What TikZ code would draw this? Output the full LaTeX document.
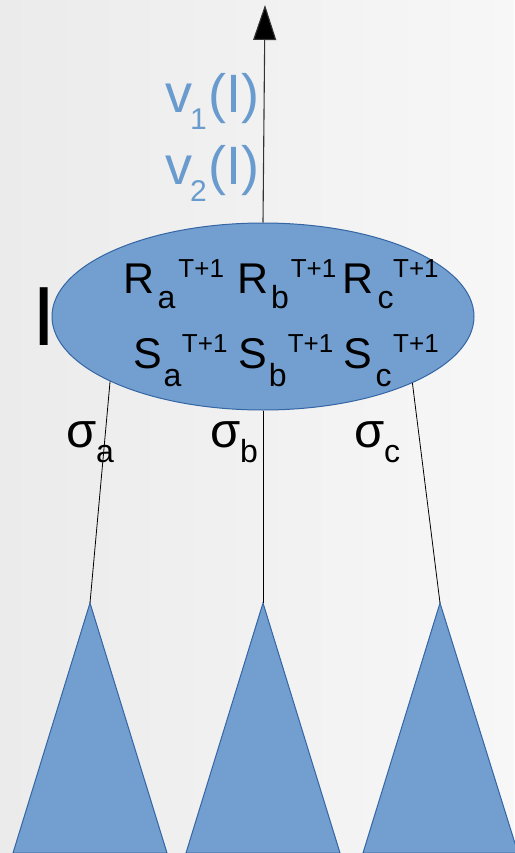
\documentclass[tikz,border=0pt]{standalone}
\usepackage{fontspec}
\setmainfont{Liberation Sans}
\usetikzlibrary{shapes.geometric,arrows.meta}
\definecolor{lofill}{HTML}{729FCF}
\definecolor{loline}{HTML}{3465A4}
\definecolor{vtext}{HTML}{6A9BCF}
\definecolor{bgl}{HTML}{EBEBEB}
\definecolor{bgr}{HTML}{F7F7F7}
\newcommand{\fsz}[1]{\fontsize{#1}{#1}\selectfont}
% main letter, subscript, kern1, kern2, sub drop, sup raise
\newcommand{\rsent}[6]{{\fsz{43}#1}\kern#3pt\raisebox{-#5pt}{\fsz{32}#2}\kern#4pt\raisebox{#6pt}{\fsz{26}T+1}}
\newcommand{\sigent}[1]{{\fsz{49}σ}\raisebox{-15pt}{\fsz{32}#1}}
\newcommand{\vent}[1]{{\fsz{54}v}\kern-2pt\raisebox{-17pt}{\fsz{30}#1}\kern2pt{\fsz{54}(I)}}
\begin{document}
\begin{tikzpicture}[x=1pt,y=-1pt,
  txt/.style={inner sep=0pt,outer sep=0pt,anchor=base west},
  shapeline/.style={draw=loline,line width=1pt,fill=lofill},
  conn/.style={draw=black,line width=0.8pt}]
\shade[left color=bgl,right color=bgr] (0,0) rectangle (514,853);
\useasboundingbox (0,0) rectangle (514,853);
% triangles
\coordinate (ta) at (90,603);
\coordinate (tb) at (263,603);
\coordinate (tc) at (440,603);
\path[shapeline] (ta) -- (167,853) -- (13,853) -- cycle;
\path[shapeline] (tb) -- (340,853) -- (186,853) -- cycle;
\path[shapeline] (tc) -- (518,853) -- (363,853) -- cycle;
% ellipse
\node[ellipse,shapeline,minimum width=422pt,minimum height=187pt,inner sep=0pt] (E) at (263,316.5) {};
% connectors
\draw[conn] (E.203.7) -- (ta);
\draw[conn] (E.south) -- (tb);
\draw[conn] (E.336.3) -- (tc);
\coordinate (top) at (265,5);
\draw[conn,draw=black!80,line width=1.1pt,-{Triangle[length=35pt,width=23pt,fill=black]}] (E.north) -- (top);
% texts in ellipse
\node[txt] (ra) at (123.6,293) {\rsent{R}{a}{3}{3}{15}{16}};
\node[txt] (rb) at (237.6,293) {\rsent{R}{b}{2.4}{2}{15}{16}};
\node[txt] (rc) at (342.6,293) {\rsent{R}{c}{4}{-0.5}{15}{16}};
\node[txt] (sa) at (133,368) {\rsent{S}{a}{2}{0.5}{18}{15.5}};
\node[txt] (sb) at (238,368) {\rsent{S}{b}{2.3}{1}{18}{15.5}};
\node[txt] (sc) at (343,368) {\rsent{S}{c}{4}{1.5}{18}{15.5}};
% I label
\node[txt] (I) at (32,345) {\fsz{84}I};
% sigma labels
\node[txt] (siga) at (66,447) {\sigent{a}};
\node[txt] (sigb) at (210,447) {\sigent{b}};
\node[txt] (sigc) at (354,447) {\sigent{c}};
% value labels
\node[txt,text=vtext] (v1) at (165,113) {\vent{1}};
\node[txt,text=vtext] (v2) at (165,185) {\vent{2}};
\end{tikzpicture}
\end{document}
